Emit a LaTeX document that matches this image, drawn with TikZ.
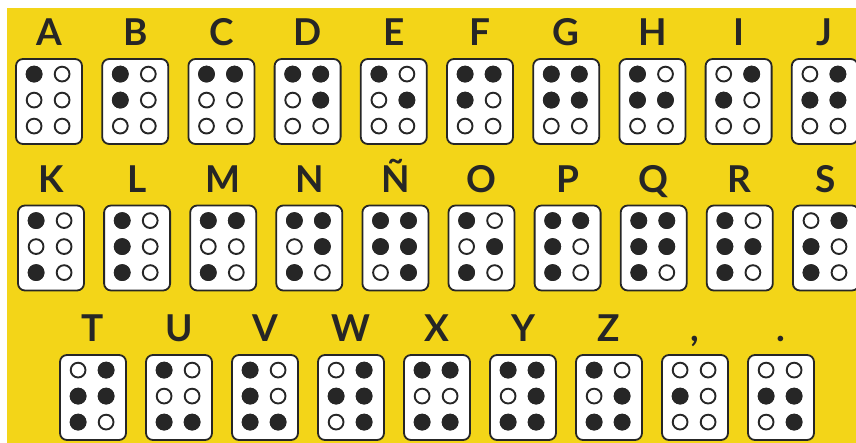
\documentclass[tikz,border=0pt]{standalone}
\usepackage{fontspec}
\setmainfont{Lato}
\usepackage{tikz}
\usetikzlibrary{positioning}

\definecolor{cardyellow}{RGB}{243,213,24}
\definecolor{ink}{RGB}{38,38,38}

\begin{document}
\begin{tikzpicture}[x=1pt, y=-1pt,
        cell/.style={draw=ink, line width=1.8pt, fill=white, rounded corners=7pt,
            minimum width=66pt, minimum height=85pt, inner sep=0pt},
        letter/.style={font=\fontsize{37}{37}\selectfont\bfseries, text=ink,
            inner sep=0pt, text depth=0pt},
        hole/.style={draw=ink, line width=1.9pt, fill=white},
        pin/.style={fill=ink}]
        \useasboundingbox (0,0) rectangle (856,443);
        \fill[white] (0,0) rectangle (856,443);
        \fill[cardyellow] (7,8) rectangle (856,443);

        % name / printed text / row / column / raised dots
        \foreach \name/\txt/\r/\c/\dts in {
            A/A/0/0/1, B/B/0/1/{1,2}, C/C/0/2/{1,4}, D/D/0/3/{1,4,5}, E/E/0/4/{1,5},
            F/F/0/5/{1,2,4}, G/G/0/6/{1,2,4,5}, H/H/0/7/{1,2,5}, I/I/0/8/{2,4}, J/J/0/9/{2,4,5},
            K/K/1/0/{1,3}, L/L/1/1/{1,2,3}, M/M/1/2/{1,3,4}, N/N/1/3/{1,3,4,5}, Ntil/Ñ/1/4/{1,2,4,5,6},
            O/O/1/5/{1,3,5}, P/P/1/6/{1,2,3,4}, Q/Q/1/7/{1,2,3,4,5}, R/R/1/8/{1,2,3,5}, S/S/1/9/{2,3,4},
            T/T/2/0/{2,3,4,5}, U/U/2/1/{1,3,6}, V/V/2/2/{1,2,3,6}, W/W/2/3/{2,4,5,6}, X/X/2/4/{1,3,4,6},
            Y/Y/2/5/{1,3,4,5,6}, Z/Z/2/6/{1,3,5,6}, comma/{,}/2/7/2, period/./2/8/{2,5,6}}
        {
            \pgfmathsetmacro{\px}{{49,51,93}[\r] + {86.2,86.1,86}[\r]*\c}
            \pgfmathsetmacro{\py}{{101.5,248,397.5}[\r]}
            \node (\name) [cell] at (\px, \py) {};
            \node (l\name) [letter, above=12pt of \name] {\txt};
            \foreach \cx in {19,47}
                \foreach \cy in {16,42,68}
                    \draw[hole] ([shift={(\cx,\cy)}]\name.north west) circle (7.4);
            \foreach \d [evaluate=\d as \cx using {19+28*int((\d-1)/3)},
                         evaluate=\d as \cy using {16+26*mod(\d-1,3)}] in \dts
                \fill[pin] ([shift={(\cx,\cy)}]\name.north west) circle (8.4);
        }
    \end{tikzpicture}
\end{document}
